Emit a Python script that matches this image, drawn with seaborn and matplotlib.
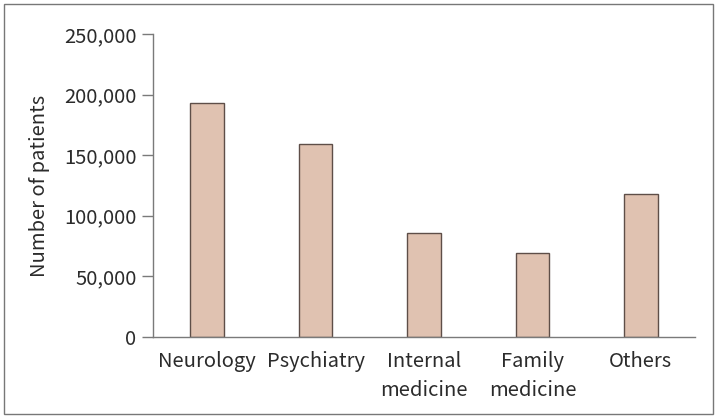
import matplotlib
matplotlib.use("Agg")
import matplotlib.pyplot as plt
import matplotlib.ticker as mticker
from matplotlib.patches import Rectangle
import seaborn as sns
import pandas as pd

# Data
departments = ["Neurology", "Psychiatry", "Internal\nmedicine", "Family\nmedicine", "Others"]
patients = [193000, 159500, 85500, 69000, 118000]
y_ticks = [0, 50000, 100000, 150000, 200000, 250000]

df = pd.DataFrame({"department": departments, "patients": patients})

sns.set_style("white")
plt.rcParams["font.family"] = ["Noto Sans CJK KR", "DejaVu Sans"]
plt.rcParams["font.weight"] = "light"

axis_col = "#7a7a7a"
text_col = "#2b2b2b"
fs = 14.5

fig = plt.figure(figsize=(7.18, 4.19), dpi=100)
ax = fig.add_axes([0.2131, 0.1957, 0.968 - 0.2131, 0.9189 - 0.1957])

sns.barplot(data=df, x="department", y="patients", color="#e0c2b1",
            edgecolor="#5e4e48", linewidth=1.0, width=0.31, saturation=1, ax=ax)

ax.set_xlim(-0.5, 4.5)
ax.set_ylim(0, 250000)
ax.set_yticks(y_ticks)
ax.yaxis.set_major_formatter(mticker.FuncFormatter(lambda v, p: f"{int(v):,}"))

ax.set_xlabel("")
ax.set_ylabel("Number of patients", fontsize=fs, color=text_col, labelpad=10)

for s in ["top", "right"]:
    ax.spines[s].set_visible(False)
for s in ["left", "bottom"]:
    ax.spines[s].set_color(axis_col)
    ax.spines[s].set_linewidth(1.0)

ax.tick_params(axis="y", length=8, width=1.0, color=axis_col, labelsize=fs,
               labelcolor=text_col, pad=4, left=True)
ax.tick_params(axis="x", length=0, labelsize=fs, labelcolor=text_col, pad=10)
for lab in ax.get_xticklabels():
    lab.set_linespacing(1.5)

# outer frame
fig.patches.append(Rectangle((4 / 718, 5 / 419), 709 / 718, 410 / 419,
                             transform=fig.transFigure, fill=False,
                             edgecolor="#777777", linewidth=1.0))

fig.savefig("out.png", dpi=100)
